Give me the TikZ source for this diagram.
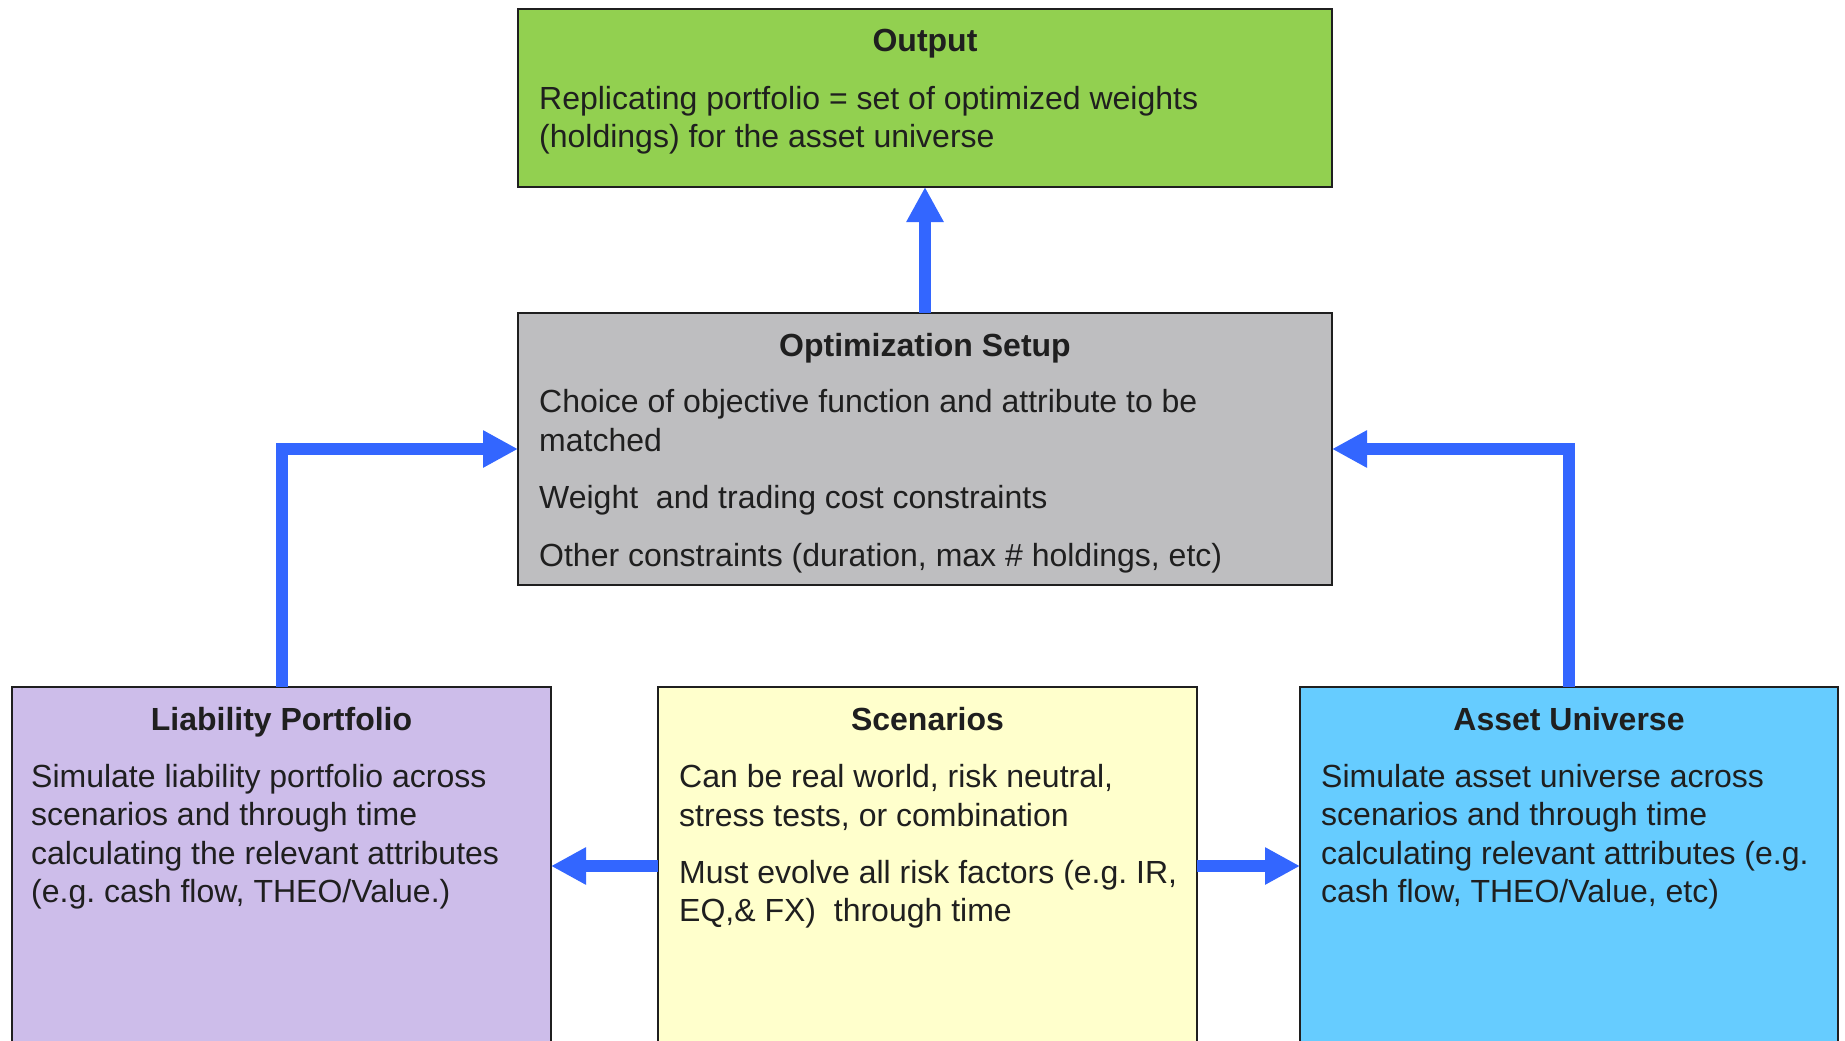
\documentclass[tikz,border=0pt]{standalone}
\usepackage{fontspec}
\setmainfont{Liberation Sans}
\usetikzlibrary{arrows.meta}

\definecolor{outgreen}{HTML}{92D050}
\definecolor{optgray}{HTML}{BEBEC0}
\definecolor{liabpurple}{HTML}{CDBDEA}
\definecolor{scenyellow}{HTML}{FFFFCC}
\definecolor{assetblue}{HTML}{66CCFF}
\definecolor{flowblue}{HTML}{3366FF}
\definecolor{edgegray}{HTML}{1F1F1F}

\newcommand\bodyfont{\fontsize{32}{38.5}\selectfont\frenchspacing}

\begin{document}
\begin{tikzpicture}[x=1pt,y=-1pt,
  panel/.style={draw=edgegray, line width=2pt, rectangle, inner sep=0pt, outer sep=0pt},
  heading/.style={anchor=base, inner sep=0pt, font=\bodyfont\bfseries, text=edgegray},
  textline/.style={anchor=base west, inner sep=0pt, font=\bodyfont, text=edgegray},
  flow/.style={draw=flowblue, line width=12pt, line join=miter,
    -{Triangle[length=35pt,width=35pt]}}]

\useasboundingbox (0,0) rectangle (1845,1041);
\clip (0,0) rectangle (1845,1041);
\fill[white] (0,0) rectangle (1845,1041);

% boxes
\node[panel, fill=outgreen, minimum width=814pt, minimum height=178pt] (out) at (925,98) {};
\node[panel, fill=optgray, minimum width=814pt, minimum height=272pt] (opt) at (925,449) {};
\node[panel, fill=liabpurple, minimum width=539pt, minimum height=413pt] (liab) at (281.5,893.5) {};
\node[panel, fill=scenyellow, minimum width=539pt, minimum height=413pt] (scen) at (927.5,893.5) {};
\node[panel, fill=assetblue, minimum width=538pt, minimum height=413pt] (asset) at (1569,893.5) {};

% Output
\node[heading] (outT) at ([yshift=-43pt]out.north) {Output};
\node[textline] (out1) at ([xshift=21pt,yshift=-100pt]out.north west) {Replicating portfolio = set of optimized weights};
\node[textline] (out2) at ([xshift=21pt,yshift=-138pt]out.north west) {(holdings) for the asset universe};

% Optimization Setup
\node[heading] (optT) at ([yshift=-43pt]opt.north) {Optimization Setup};
\node[textline] (opt1) at ([xshift=21pt,yshift=-99pt]opt.north west) {Choice of objective function and attribute to be};
\node[textline] (opt2) at ([xshift=21pt,yshift=-138pt]opt.north west) {matched};
\node[textline] (opt3) at ([xshift=21pt,yshift=-195pt]opt.north west) {Weight\ \ and trading cost constraints};
\node[textline] (opt4) at ([xshift=21pt,yshift=-253pt]opt.north west) {Other constraints (duration, max \# holdings, etc)};

% Liability Portfolio
\node[heading] (liabT) at ([yshift=-43pt]liab.north) {Liability Portfolio};
\node[textline] (liab1) at ([xshift=19pt,yshift=-100pt]liab.north west) {Simulate liability portfolio across};
\node[textline] (liab2) at ([xshift=19pt,yshift=-138.5pt]liab.north west) {scenarios and through time};
\node[textline] (liab3) at ([xshift=19pt,yshift=-177pt]liab.north west) {calculating the relevant attributes};
\node[textline] (liab4) at ([xshift=19pt,yshift=-215.5pt]liab.north west) {(e.g. cash flow, THEO/Value.)};

% Scenarios
\node[heading] (scenT) at ([yshift=-43pt]scen.north) {Scenarios};
\node[textline] (scen1) at ([xshift=21pt,yshift=-100pt]scen.north west) {Can be real world, risk neutral,};
\node[textline] (scen2) at ([xshift=21pt,yshift=-139pt]scen.north west) {stress tests, or combination};
\node[textline] (scen3) at ([xshift=21pt,yshift=-196pt]scen.north west) {Must evolve all risk factors (e.g. IR,};
\node[textline] (scen4) at ([xshift=21pt,yshift=-234pt]scen.north west) {EQ,\& FX)\ \ through time};

% Asset Universe
\node[heading] (assetT) at ([yshift=-43pt]asset.north) {Asset Universe};
\node[textline] (asset1) at ([xshift=21pt,yshift=-100pt]asset.north west) {Simulate asset universe across};
\node[textline] (asset2) at ([xshift=21pt,yshift=-138.5pt]asset.north west) {scenarios and through time};
\node[textline] (asset3) at ([xshift=21pt,yshift=-177pt]asset.north west) {calculating relevant attributes (e.g.};
\node[textline] (asset4) at ([xshift=21pt,yshift=-215.5pt]asset.north west) {cash flow, THEO/Value, etc)};

% connectors
\coordinate (lowrow) at (0,866);
\draw[flow] (opt.north) -- (out.south);
\draw[flow] (liab.north) |- (opt.west);
\draw[flow] (asset.north) |- (opt.east);
\draw[flow] (scen.west |- lowrow) -- (liab.east |- lowrow);
\draw[flow] (scen.east |- lowrow) -- (asset.west |- lowrow);

\end{tikzpicture}
\end{document}
